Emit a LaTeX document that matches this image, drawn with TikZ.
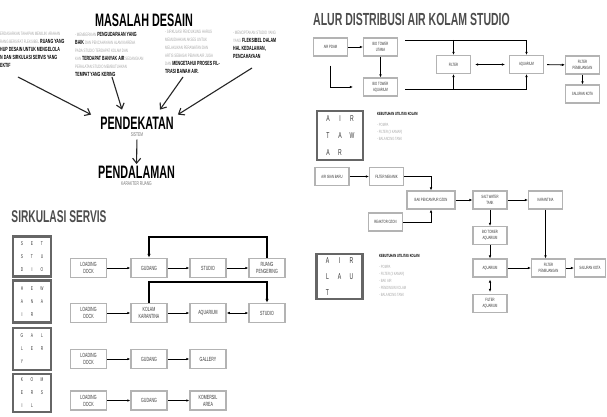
\documentclass[tikz,border=0pt]{standalone}
\usepackage{fontspec}
\setmainfont{Liberation Sans}
\newfontfamily\cond{Liberation Sans}[FakeStretch=0.6]
\usetikzlibrary{arrows.meta, positioning}

\definecolor{boxgray}{HTML}{B3B3B3}
\definecolor{catgray}{HTML}{666666}
\definecolor{notegray}{HTML}{A8A8A8}
\definecolor{titlegray}{HTML}{4D4D4D}

% grey light words inside the notes
\newcommand{\gtx}[1]{{\mdseries\color{notegray}\fontsize{4.8}{8}\selectfont #1}}
% three spaced letters of a category box
\newcommand{\lrow}[4][10pt]{\makebox[#1][c]{#2}\makebox[#1][c]{#3}\makebox[#1][c]{#4}}

\begin{document}
\begin{tikzpicture}[x=1pt, y=-1pt,
	flowbox/.style={draw=boxgray, line width=1.5pt, fill=white, minimum width=36pt, minimum height=19pt,
		inner sep=1pt, align=center, text=black!80, font=\cond\fontsize{6}{7}\selectfont},
	pipebox/.style={flowbox, minimum width=34pt, minimum height=18pt, line width=1.2pt,
		font=\cond\fontsize{4.6}{5.8}\selectfont},
	catbox/.style={draw=catgray, line width=2.3pt, minimum width=38pt, minimum height=40pt, inner sep=0pt,
		align=left, text=black!80, font=\cond\fontsize{5.5}{13}\selectfont},
	bigbox/.style={catbox, minimum width=46pt, font=\cond\fontsize{8.5}{17}\selectfont},
	flow/.style={line width=0.9pt, -{Latex[length=3pt,width=2.6pt]}},
	twoway/.style={line width=0.9pt, {Latex[length=3pt,width=2.6pt]}-{Latex[length=3pt,width=2.6pt]}},
	loopline/.style={line width=1.8pt, -{Latex[length=4pt,width=3.5pt]}},
	barb/.style={line width=1.1pt, black!85, -{Straight Barb[length=5pt,width=8pt]}},
	heading/.style={inner sep=0pt, font=\cond\bfseries\fontsize{18}{18}\selectfont},
	subnote/.style={inner sep=0pt, text=black!55, font=\cond\fontsize{5.5}{6}\selectfont},
	note/.style={inner sep=0pt, anchor=north west, align=left, font=\cond\bfseries\fontsize{6}{8}\selectfont},
	utilnote/.style={inner sep=0pt, anchor=north west, align=left, font=\cond\fontsize{4.5}{7}\selectfont}
	]
	\useasboundingbox[fill=white] (0,0) rectangle (607,417);

	%% masalah desain
	\node[heading] (masalah) at (144,20) {MASALAH DESAIN};

	\node[note] (mb1) at (0,32) {\gtx{ERDASARKAN TAHAPAN MEMILIKI ARAHAN}\\
		\gtx{RANG BERSIFAT FLEKSIBEL} RUANG YANG\\
		HUP DESAIN UNTUK MENGELOLA\\
		N DAN SIRKULASI SERVIS YANG\\
		EKTIF};
	\node[note] (mb2) at (75,32) {\gtx{- MEMBERIKAN} PENGUDARAAN YANG\\
		BAIK \gtx{DAN PENCAHAYAAN ALAMI KARENA}\\
		\gtx{PADA STUDIO TERDAPAT KOLAM DAN}\\
		\gtx{KAN} TERDAPAT BANYAK AIR \gtx{SEDANGKAN}\\
		\gtx{PERALATAN STUDIO MEMBUTUHKAN}\\
		TEMPAT YANG KERING};
	\node[note] (mb3) at (165,30) {\gtx{- SIRKULASI PENDUKUNG HARUS}\\
		\gtx{MEMUDAHKAN AKSES UNTUK}\\
		\gtx{MELAKUKAN PERAWATAN DAN}\\
		\gtx{ARTIS SEBAGAI PEMAIN AIR JUGA}\\
		\gtx{DAN} MENGETAHUI PROSES FIL-\\
		TRASI BAWAH AIR.};
	\node[note] (mb4) at (233,31) {\gtx{- MENCIPTAKAN STUDIO YANG}\\
		\gtx{YANG} FLEKSIBEL DALAM\\
		HAL KEDALAMAN,\\
		PENCAHAYAAN};

	\node[heading] (pdk) at (137,123) {PENDEKATAN};
	\node[subnote, below=3pt of pdk] (sis) {SISTEM};
	\node[heading] (pdl) at (136.5,172.5) {PENDALAMAN};
	\node[subnote, below=3pt of pdl] (krk) {KARAKTER RUANG};

	\coordinate (m1) at (18,77);
	\coordinate (m2) at (112,77);
	\coordinate (m3) at (183,77);
	\coordinate (m4) at (252,68);
	\draw[barb] (m1) -- ([xshift=-9pt,yshift=2pt]pdk.north west);
	\draw[barb] (m2) -- ([xshift=-15pt,yshift=7pt]pdk.north);
	\draw[barb] (m3) -- ([xshift=23pt,yshift=7pt]pdk.north);
	\draw[barb] (m4) -- ([xshift=4pt,yshift=2pt]pdk.north east);
	\draw[barb, shorten <=3pt, shorten >=2pt] (sis.south) -- (pdl.north);

	%% sirkulasi servis
	\node[heading, text=titlegray, font=\cond\bfseries\fontsize{17}{17}\selectfont] (sirk) at (59,217) {SIRKULASI SERVIS};

	\node[catbox] (cs) at (32,256.5) {\lrow{S}{E}{T}\\\lrow{S}{T}{U}\\\lrow{D}{I}{O}};
	\node[catbox, minimum height=42pt] (ch) at (32,301.5) {\lrow{H}{E}{W}\\\lrow{A}{N}{A}\\\lrow{I}{R}{}};
	\node[catbox, minimum height=42pt] (cg) at (32,349) {\lrow{G}{A}{L}\\\lrow{L}{E}{R}\\\lrow{Y}{}{}};
	\node[catbox, minimum height=38pt] (ck) at (32,393) {\lrow{K}{O}{M}\\\lrow{E}{R}{S}\\\lrow{I}{L}{}};

	\node[flowbox] (ld1) at (88.5,268) {LOADING\\DOCK};
	\node[flowbox] (gd1) at (149,268) {GUDANG};
	\node[flowbox] (st1) at (208,268) {STUDIO};
	\node[flowbox] (rp1) at (267,268) {RUANG\\PENGERING};
	\draw[flow] (ld1) -- (gd1);
	\draw[flow] (gd1) -- (st1);
	\draw[flow] (st1) -- (rp1);
	\draw[loopline] (rp1.north) -- (rp1.north |- 0,237) -| (gd1.north);

	\node[flowbox] (ld2) at (88.5,313) {LOADING\\DOCK};
	\node[flowbox] (kk2) at (149,313) {KOLAM\\KARANTINA};
	\node[flowbox] (aq2) at (208,313) {AQUARIUM};
	\node[flowbox] (st2) at (267,313) {STUDIO};
	\draw[flow] (ld2) -- (kk2);
	\draw[flow] (kk2) -- (aq2);
	\draw[twoway] (aq2) -- (st2);
	\draw[loopline] (kk2.north) -- (kk2.north |- 0,282) -| (st2.north);

	\node[flowbox] (ld3) at (88.5,359) {LOADING\\DOCK};
	\node[flowbox] (gd3) at (149,359) {GUDANG};
	\node[flowbox] (ga3) at (208,359) {GALLERY};
	\draw[flow] (ld3) -- (gd3);
	\draw[flow] (gd3) -- (ga3);

	\node[flowbox] (ld4) at (88.5,400.5) {LOADING\\DOCK};
	\node[flowbox] (gd4) at (149,400.5) {GUDANG};
	\node[flowbox] (ka4) at (208,400.5) {KOMERSIL\\AREA};
	\draw[flow] (ld4) -- (gd4);
	\draw[flow] (gd4) -- (ka4);

	%% alur distribusi air
	\node[heading, text=titlegray, font=\cond\bfseries\fontsize{17.5}{17.5}\selectfont] (alur) at (411.5,19) {ALUR DISTRIBUSI AIR KOLAM STUDIO};

	\node[pipebox] (pdam) at (330.5,47) {AIR PDAM};
	\node[pipebox] (bu) at (380.5,47) {BIO TOWER\\UTAMA};
	\node[pipebox] (bta) at (380.5,87) {BIO TOWER\\AQUARIUM};
	\node[pipebox] (fi) at (453.5,64.5) {FILTER};
	\node[pipebox] (aq) at (526.5,64.5) {AQUARIUM};
	\node[pipebox] (fpb) at (582.5,65) {FILTER\\PEMBUANGAN};
	\node[pipebox] (sk) at (582.5,94) {SALURAN KOTA};
	\coordinate (tl) at (405,40);
	\coordinate (bl) at (405,89);
	\draw[flow] (pdam) -- (bu);
	\draw[flow] (bu) -- (bta);
	\draw[flow, shorten <=9pt, shorten >=10pt] (pdam.south) |- (bta.west);
	\draw[flow] (tl) -| (aq.north);
	\draw[flow] (fi.north |- tl) -- (fi.north);
	\draw[flow] (bl) -| (aq.south);
	\draw[flow] (fi.south |- bl) -- (fi.south);
	\draw[twoway, shorten <=4pt, shorten >=4pt] (fi) -- (aq);
	\draw[flow, shorten <=3pt] (aq) -- (fpb);
	\draw[flow] (fpb) -- (sk);

	% air tawar
	\node[bigbox, minimum height=49pt] (tawar) at (340,135.5) {\lrow[12pt]{A}{I}{R}\\\lrow[12pt]{T}{A}{W}\\\lrow[12pt]{A}{R}{}};
	\node[utilnote, anchor=north west] (ut1) at (377,112) {\textbf{KEBUTUHAN UTILITAS KOLAM}\\[4pt]
		\textcolor{notegray}{- POMPA}\\
		\textcolor{notegray}{- FILTER (3 KAMAR)}\\
		\textcolor{notegray}{- BALANCING TANK}};

	\node[pipebox] (aib) at (332,176.5) {AIR ISIAN BARU};
	\node[pipebox] (fm) at (386.5,176.5) {FILTER MEKANIK};
	\node[pipebox, minimum width=48pt] (bak) at (431,200) {BAK PENCAMPUR OZON};
	\node[pipebox] (swt) at (490,200) {SALT WATER\\TANK};
	\node[pipebox] (kar) at (545.5,200) {KARANTINA};
	\node[pipebox] (ro) at (385.5,222) {REAKTOR OZON};
	\node[pipebox] (bt2) at (490,235.5) {BIO TOWER\\AQUARIUM};
	\node[pipebox] (aq3) at (490,268) {AQUARIUM};
	\node[pipebox] (fa) at (490,303.5) {FILTER\\AQUARIUM};
	\node[pipebox] (fp2) at (548.5,268) {FILTER\\PEMBUANGAN};
	\node[pipebox, minimum width=31pt] (sk2) at (590,268) {SALURAN KOTA};
	\draw[flow] (aib) -- (fm);
	\draw[flow] (fm.east) -| (bak.north);
	\draw[flow] (ro.east) -| (bak.south);
	\draw[flow] (bak) -- (swt);
	\draw[flow] (swt) -- (kar);
	\draw[flow] (swt) -- (bt2);
	\draw[flow] (bt2) -- (aq3);
	\draw[twoway, shorten <=2pt, shorten >=2pt] (aq3) -- (fa);
	\draw[flow] (aq3) -- (fp2);
	\draw[flow] (kar.south) -- (kar.south |- fp2.north);
	\draw[flow] (fp2) -- (sk2);

	% air laut
	\node[bigbox, minimum height=45pt, font=\cond\fontsize{8.5}{16}\selectfont] (laut) at (339.5,276.5) {\lrow[12pt]{A}{I}{R}\\\lrow[12pt]{L}{A}{U}\\\lrow[12pt]{T}{}{}};
	\node[utilnote, anchor=north west] (ut2) at (379,254) {\textbf{KEBUTUHAN UTILITAS KOLAM}\\[4pt]
		\textcolor{notegray}{- POMPA}\\
		\textcolor{notegray}{- FILTER (3 KAMAR)}\\
		\textcolor{notegray}{- BAK AIR}\\
		\textcolor{notegray}{- PENDINGIN KOLAM}\\
		\textcolor{notegray}{- BALANCING TANK}};
\end{tikzpicture}
\end{document}
